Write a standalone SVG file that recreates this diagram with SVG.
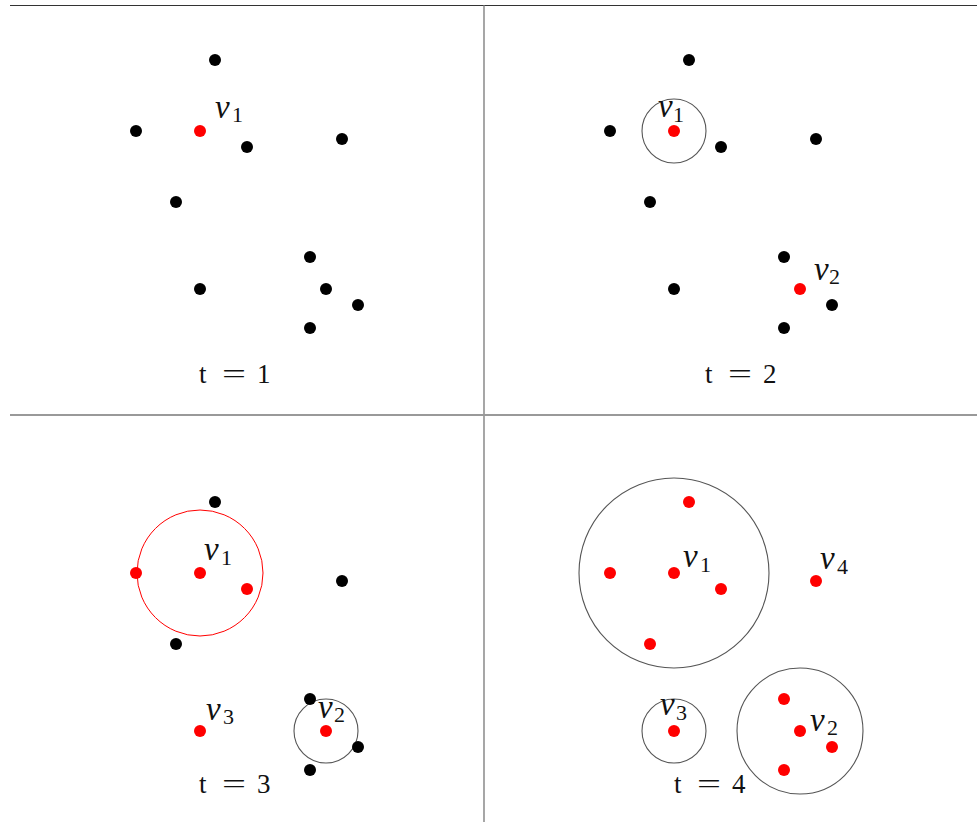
<svg xmlns="http://www.w3.org/2000/svg" width="977" height="822" viewBox="0 0 977 822">
<style>
.b{fill:#000}
.r{fill:#ff0000}
.c{fill:none;stroke:#555;stroke-width:1.1}
.cr{fill:none;stroke:#ff0000;stroke-width:1}
.v{font-family:"Liberation Serif","DejaVu Serif",serif;font-style:italic;font-size:33px;fill:#111}
.s{font-family:"Liberation Serif","DejaVu Serif",serif;font-size:22px;fill:#111}
.t{font-family:"Liberation Serif","DejaVu Serif",serif;font-size:27px;fill:#111}
</style>
<rect width="977" height="822" fill="#fff"/>
<g id="frame">
<line x1="10" y1="5.5" x2="977" y2="5.5" stroke="#333" stroke-width="1.2"/>
<line x1="484" y1="5" x2="484" y2="822" stroke="#777" stroke-width="1.3"/>
<line x1="10" y1="415" x2="977" y2="415" stroke="#999" stroke-width="2"/>
</g>
<g id="panel1">
<g id="p1n1"><circle class="b" cx="215" cy="60" r="6"/></g>
<g id="p1n2"><circle class="b" cx="136" cy="131" r="6"/></g>
<g id="p1v1"><circle class="r" cx="200" cy="131" r="6"/><text class="v" x="215" y="118">v</text><text class="s" x="232" y="122">1</text></g>
<g id="p1n3"><circle class="b" cx="247" cy="147" r="6"/></g>
<g id="p1n4"><circle class="b" cx="342" cy="139" r="6"/></g>
<g id="p1n5"><circle class="b" cx="176" cy="202" r="6"/></g>
<g id="p1n6"><circle class="b" cx="200" cy="289" r="6"/></g>
<g id="p1n7"><circle class="b" cx="310" cy="257" r="6"/></g>
<g id="p1n8"><circle class="b" cx="326" cy="289" r="6"/></g>
<g id="p1n9"><circle class="b" cx="358" cy="305" r="6"/></g>
<g id="p1n10"><circle class="b" cx="310" cy="328" r="6"/></g>
<g id="t1" class="t"><text x="199" y="383">t</text><text x="222" y="383" textLength="24" lengthAdjust="spacingAndGlyphs">=</text><text x="257" y="383">1</text></g>
</g>
<g id="panel2">
<g id="p2n1"><circle class="b" cx="689" cy="60" r="6"/></g>
<g id="p2n2"><circle class="b" cx="610" cy="131" r="6"/></g>
<g id="p2v1"><circle class="c" cx="674" cy="131" r="32"/><circle class="r" cx="674" cy="131" r="6"/><text class="v" x="658" y="117">v</text><text class="s" x="673" y="122">1</text></g>
<g id="p2n3"><circle class="b" cx="721" cy="147" r="6"/></g>
<g id="p2n4"><circle class="b" cx="816" cy="139" r="6"/></g>
<g id="p2n5"><circle class="b" cx="650" cy="202" r="6"/></g>
<g id="p2n6"><circle class="b" cx="674" cy="289" r="6"/></g>
<g id="p2n7"><circle class="b" cx="784" cy="257" r="6"/></g>
<g id="p2v2"><circle class="r" cx="800" cy="289" r="6"/><text class="v" x="814" y="280">v</text><text class="s" x="829" y="284">2</text></g>
<g id="p2n9"><circle class="b" cx="832" cy="305" r="6"/></g>
<g id="p2n10"><circle class="b" cx="784" cy="328" r="6"/></g>
<g id="t2" class="t"><text x="705" y="383">t</text><text x="728" y="383" textLength="24" lengthAdjust="spacingAndGlyphs">=</text><text x="763" y="383">2</text></g>
</g>
<g id="panel3">
<g id="p3n1"><circle class="b" cx="215" cy="502" r="6"/></g>
<g id="p3v1"><circle class="cr" cx="200" cy="573" r="63"/><circle class="r" cx="200" cy="573" r="6"/><text class="v" x="204" y="560">v</text><text class="s" x="221" y="565">1</text></g>
<g id="p3n2"><circle class="r" cx="136" cy="573" r="6"/></g>
<g id="p3n3"><circle class="r" cx="247" cy="589" r="6"/></g>
<g id="p3n4"><circle class="b" cx="342" cy="581" r="6"/></g>
<g id="p3n5"><circle class="b" cx="176" cy="644" r="6"/></g>
<g id="p3v3"><circle class="r" cx="200" cy="731" r="6"/><text class="v" x="206" y="720">v</text><text class="s" x="223" y="724">3</text></g>
<g id="p3v2"><circle class="c" cx="326" cy="731" r="32"/><circle class="r" cx="326" cy="731" r="6"/><text class="v" x="318" y="718">v</text><text class="s" x="334" y="722">2</text></g>
<g id="p3n7"><circle class="b" cx="310" cy="699" r="6"/></g>
<g id="p3n9"><circle class="b" cx="358" cy="747" r="6"/></g>
<g id="p3n10"><circle class="b" cx="310" cy="770" r="6"/></g>
<g id="t3" class="t"><text x="199" y="793">t</text><text x="222" y="793" textLength="24" lengthAdjust="spacingAndGlyphs">=</text><text x="257" y="793">3</text></g>
</g>
<g id="panel4">
<g id="p4v1"><circle class="c" cx="674" cy="573" r="95"/><circle class="r" cx="674" cy="573" r="6"/><text class="v" x="683" y="567">v</text><text class="s" x="700" y="572">1</text></g>
<g id="p4n1"><circle class="r" cx="689" cy="502" r="6"/></g>
<g id="p4n2"><circle class="r" cx="610" cy="573" r="6"/></g>
<g id="p4n3"><circle class="r" cx="721" cy="589" r="6"/></g>
<g id="p4n5"><circle class="r" cx="650" cy="644" r="6"/></g>
<g id="p4v4"><circle class="r" cx="816" cy="581" r="6"/><text class="v" x="820" y="569">v</text><text class="s" x="837" y="574">4</text></g>
<g id="p4v3"><circle class="c" cx="674" cy="731" r="32"/><circle class="r" cx="674" cy="731" r="6"/><text class="v" x="660" y="715">v</text><text class="s" x="676" y="720">3</text></g>
<g id="p4v2"><circle class="c" cx="800" cy="731" r="63"/><circle class="r" cx="800" cy="731" r="6"/><text class="v" x="810" y="731">v</text><text class="s" x="827" y="735">2</text></g>
<g id="p4n7"><circle class="r" cx="784" cy="699" r="6"/></g>
<g id="p4n9"><circle class="r" cx="832" cy="747" r="6"/></g>
<g id="p4n10"><circle class="r" cx="784" cy="770" r="6"/></g>
<g id="t4" class="t"><text x="674" y="793">t</text><text x="697" y="793" textLength="24" lengthAdjust="spacingAndGlyphs">=</text><text x="732" y="793">4</text></g>
</g>
</svg>
